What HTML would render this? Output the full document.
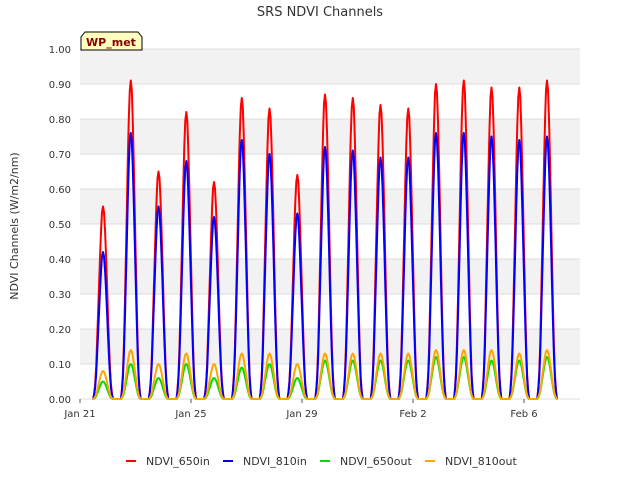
<!DOCTYPE html>
<html><head><meta charset="utf-8"><style>
body{margin:0;background:#fff;font-family:"Liberation Sans","DejaVu Sans",sans-serif}
svg text{font-family:"DejaVu Sans","Liberation Sans",sans-serif}
</style></head><body>
<svg id="c" width="640" height="480" viewBox="0 0 640 480">
<rect x="0" y="0" width="640" height="480" fill="#fff"/>
<text x="320" y="16" text-anchor="middle" font-size="13" fill="#333">SRS NDVI Channels</text>
<g id="grid"></g>
<g id="series"></g>
<g id="axes"></g>
<text transform="translate(18,226) rotate(-90)" text-anchor="middle" font-size="11" fill="#333">NDVI Channels (W/m2/nm)</text>
<g>
<path d="M81,50 L81,37 L85,32 L138,32 L142,37 L142,50 Z" fill="#ffffc0" stroke="#000" stroke-width="1"/>
<text x="111" y="46" text-anchor="middle" font-size="11" font-weight="bold" fill="#8b0000">WP_met</text>
</g>
<g id="legend"></g>
</svg>
<script>
const dayPeaks650in  = [0.55,0.91,0.65,0.82,0.62,0.86,0.83,0.64,0.87,0.86,0.84,0.83,0.90,0.91,0.89,0.89,0.91];
const dayPeaks810in  = [0.42,0.76,0.55,0.68,0.52,0.74,0.70,0.53,0.72,0.71,0.69,0.69,0.76,0.76,0.75,0.74,0.75];
const dayPeaks650out = [0.05,0.10,0.06,0.10,0.06,0.09,0.10,0.06,0.11,0.11,0.11,0.11,0.12,0.12,0.11,0.11,0.12];
const dayPeaks810out = [0.08,0.14,0.10,0.13,0.10,0.13,0.13,0.10,0.13,0.13,0.13,0.13,0.14,0.14,0.14,0.13,0.14];
const diurnalShape = [0,0.03,0.08,0.17,0.3,0.45,0.6,0.75,0.88,0.97,1,0.97,0.88,0.75,0.6,0.45,0.3,0.17,0.08,0.03,0];
const yTicks = [0,0.1,0.2,0.3,0.4,0.5,0.6,0.7,0.8,0.9,1.0];
const xTickDays = [0,4,8,12,16];
const xTickLabels = ["Jan 21","Jan 25","Jan 29","Feb 2","Feb 6"];
const seriesNames = ["NDVI_650in","NDVI_810in","NDVI_650out","NDVI_810out"];
const seriesColors = ["#ff0000","#0000ff","#00dd00","#ffa500"];
const peakOffset = 0.83;

const L=80,R=580,T=49,B=399;
const xs=d=>L+(d/18)*(R-L)*(18/18)*1.0*(499.5/500)*(27.75*18/499.5);
const ys=v=>B-v*(B-T);
const NS="http://www.w3.org/2000/svg";
const mk=(t,a,p)=>{const e=document.createElementNS(NS,t);for(const k in a)e.setAttribute(k,a[k]);p.appendChild(e);return e;};
const grid=document.getElementById('grid'),axes=document.getElementById('axes'),ser=document.getElementById('series'),leg=document.getElementById('legend');
for(let i=0;i<yTicks.length-1;i++){
  if(i%2===1){const r=mk('rect',{x:L,y:ys(yTicks[i+1]),width:R-L,height:ys(yTicks[i])-ys(yTicks[i+1]),fill:'#f2f2f2'},grid);
  
  }
}
yTicks.forEach(v=>{
  const l=mk('line',{x1:L,x2:R,y1:ys(v),y2:ys(v),stroke:'#dcdcdc','stroke-width':1},grid);
  
  
  const t=mk('text',{x:L-9,y:ys(v)+4,'text-anchor':'end','font-size':10,fill:'#333'},axes);
  t.textContent=v.toFixed(2);
  
  
});
xTickDays.forEach((d,i)=>{
  mk('line',{x1:xs(d),x2:xs(d),y1:B,y2:B+4,stroke:'#555'},axes);
  const t=mk('text',{x:xs(d),y:B+18,'text-anchor':'middle','font-size':10,fill:'#333'},axes);
  t.textContent=xTickLabels[i];
  
  
});
const all=[dayPeaks650in,dayPeaks810in,dayPeaks650out,dayPeaks810out];
const half=(diurnalShape.length-1)/2;
all.forEach((pk,si)=>{
  let d=`M${xs(0.5)},${ys(0)}`;
  pk.forEach((p,day)=>{
    diurnalShape.forEach((f,h)=>{
      const t=day+peakOffset+(h-half)/24*0.85;
      d+=` L${xs(t).toFixed(1)},${ys(p*f).toFixed(1)}`;
    });
  });
  d+=` L${xs(17.2)},${ys(0)}`;
  const path=mk('path',{d:d,fill:'none',stroke:seriesColors[si],'stroke-width':2,'stroke-linejoin':'round'},ser);
  
  
});
const lx=[126,223,320,425];
seriesNames.forEach((n,i)=>{
  const g=mk('g',{},leg);
  
  
  mk('line',{x1:lx[i],x2:lx[i]+10,y1:461,y2:461,stroke:seriesColors[i],'stroke-width':2},g);
  const t=mk('text',{x:lx[i]+20,y:465,'font-size':11,fill:'#333'},g);
  t.textContent=n;
});
</script>
</body></html>
